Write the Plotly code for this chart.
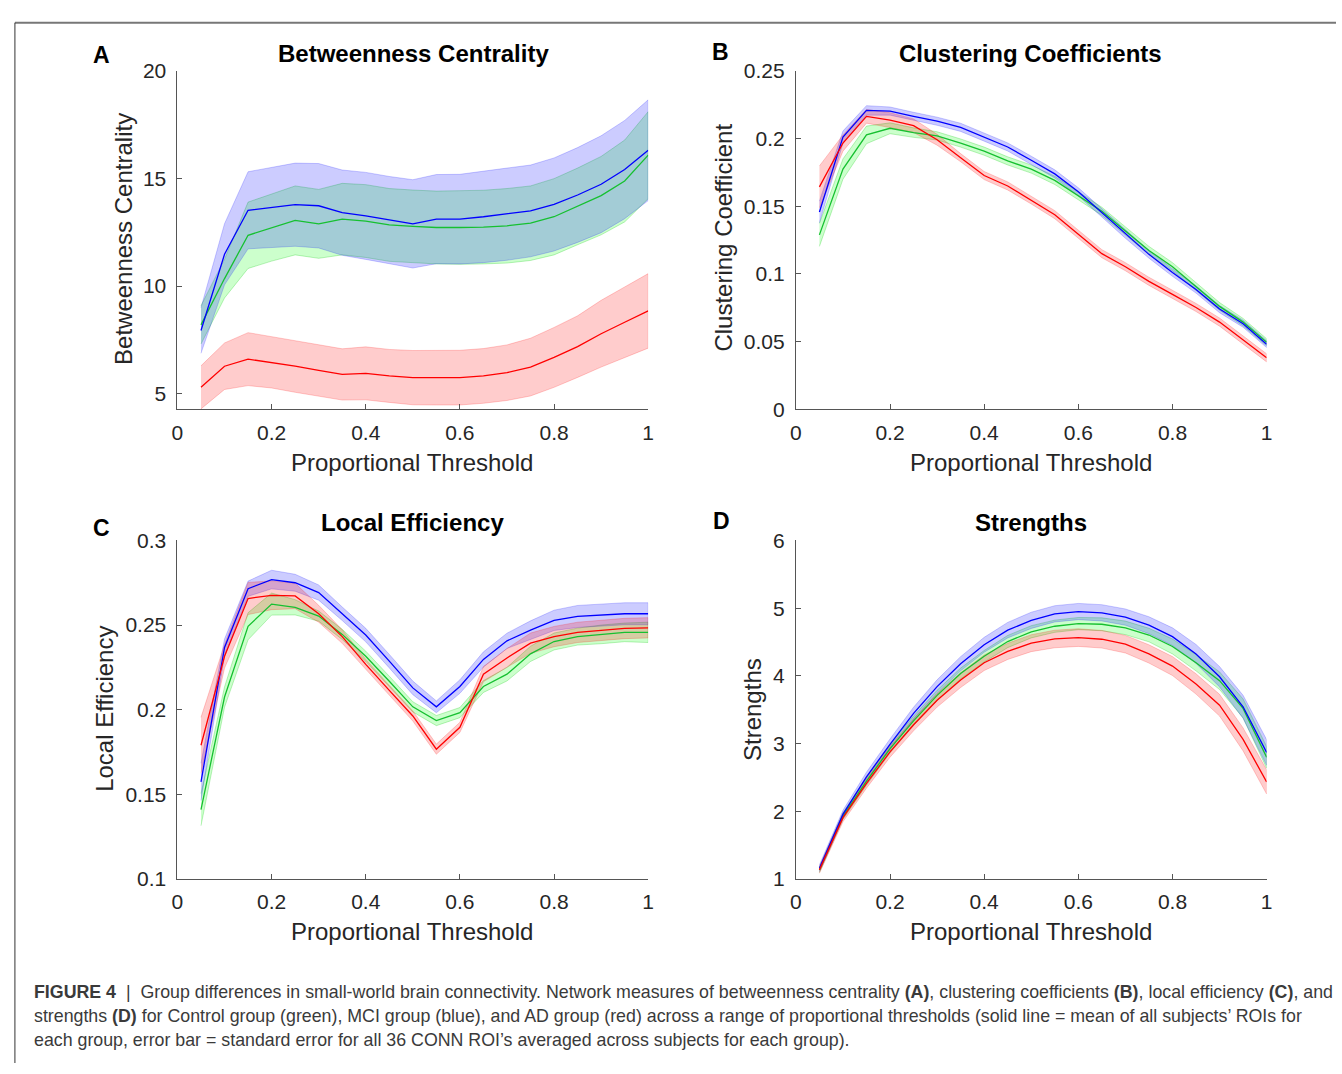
import plotly.graph_objects as go

# ---------------- data ----------------
threshold = [0.05, 0.10, 0.15, 0.20, 0.25, 0.30, 0.35, 0.40, 0.45, 0.50,
             0.55, 0.60, 0.65, 0.70, 0.75, 0.80, 0.85, 0.90, 0.95, 1.00]

# A: Betweenness centrality
bc_ctrl_mean = [8.20, 10.35, 12.36, 12.72, 13.05, 12.89, 13.11, 13.02, 12.84, 12.77,
                12.72, 12.72, 12.74, 12.80, 12.92, 13.22, 13.70, 14.20, 14.88, 16.08]
bc_ctrl_se = [0.89, 0.90, 1.54, 1.56, 1.60, 1.60, 1.66, 1.69, 1.69, 1.69,
              1.69, 1.71, 1.71, 1.73, 1.73, 1.77, 1.78, 1.82, 1.90, 2.02]
bc_mci_mean = [7.94, 11.48, 13.52, 13.64, 13.78, 13.73, 13.41, 13.26, 13.07, 12.89,
               13.11, 13.11, 13.22, 13.34, 13.49, 13.79, 14.23, 14.73, 15.41, 16.31]
bc_mci_se = [1.06, 1.42, 1.79, 1.86, 1.93, 1.96, 1.98, 2.02, 2.02, 2.05,
             2.07, 2.08, 2.13, 2.14, 2.13, 2.16, 2.20, 2.25, 2.28, 2.34]
bc_ad_mean = [5.30, 6.28, 6.61, 6.46, 6.28, 6.09, 5.90, 5.95, 5.83, 5.75,
              5.75, 5.75, 5.83, 5.98, 6.24, 6.69, 7.19, 7.79, 8.32, 8.85]
bc_ad_se = [1.00, 1.08, 1.23, 1.19, 1.21, 1.21, 1.19, 1.23, 1.23, 1.26,
            1.27, 1.27, 1.27, 1.29, 1.34, 1.39, 1.43, 1.55, 1.64, 1.73]

# B: Clustering coefficients
cc_ctrl_mean = [0.1288, 0.1774, 0.2026, 0.2075, 0.2043, 0.2019, 0.1966, 0.1906, 0.1834, 0.1774,
                0.1690, 0.1577, 0.1462, 0.1317, 0.1173, 0.1053, 0.0909, 0.0760, 0.0644, 0.0495]
cc_ctrl_se = [0.0085, 0.0075, 0.0065, 0.0040, 0.0035, 0.0030, 0.0030, 0.0030, 0.0030, 0.0030,
              0.0030, 0.0030, 0.0030, 0.0030, 0.0030, 0.0030, 0.0030, 0.0028, 0.0027, 0.0026]
cc_mci_mean = [0.1457, 0.2010, 0.2207, 0.2202, 0.2163, 0.2127, 0.2082, 0.2010, 0.1937, 0.1839,
               0.1738, 0.1606, 0.1450, 0.1293, 0.1144, 0.1010, 0.0885, 0.0740, 0.0632, 0.0481]
cc_mci_se = [0.0080, 0.0045, 0.0035, 0.0030, 0.0030, 0.0030, 0.0030, 0.0030, 0.0030, 0.0030,
             0.0030, 0.0030, 0.0030, 0.0030, 0.0028, 0.0028, 0.0027, 0.0027, 0.0026, 0.0025]
cc_ad_mean = [0.1642, 0.1966, 0.2163, 0.2135, 0.2094, 0.1990, 0.1858, 0.1726, 0.1649, 0.1546,
              0.1437, 0.1293, 0.1149, 0.1053, 0.0945, 0.0849, 0.0752, 0.0644, 0.0512, 0.0380]
cc_ad_se = [0.0155, 0.0060, 0.0050, 0.0055, 0.0050, 0.0040, 0.0030, 0.0030, 0.0030, 0.0030,
            0.0030, 0.0030, 0.0030, 0.0030, 0.0030, 0.0030, 0.0030, 0.0030, 0.0030, 0.0030]

# C: Local efficiency
le_ctrl_mean = [0.1410, 0.2075, 0.2493, 0.2624, 0.2605, 0.2553, 0.2445, 0.2316, 0.2168, 0.2017,
                0.1936, 0.1983, 0.2137, 0.2210, 0.2330, 0.2403, 0.2432, 0.2445, 0.2457, 0.2457]
le_ctrl_se = [0.0095, 0.0060, 0.0080, 0.0065, 0.0045, 0.0030, 0.0030, 0.0030, 0.0030, 0.0030,
              0.0030, 0.0030, 0.0035, 0.0040, 0.0045, 0.0050, 0.0050, 0.0055, 0.0055, 0.0060]
le_mci_mean = [0.1574, 0.2368, 0.2715, 0.2769, 0.2750, 0.2692, 0.2567, 0.2441, 0.2287, 0.2129,
               0.2017, 0.2137, 0.2297, 0.2407, 0.2470, 0.2528, 0.2551, 0.2561, 0.2567, 0.2567]
le_mci_se = [0.0110, 0.0050, 0.0045, 0.0055, 0.0050, 0.0045, 0.0040, 0.0040, 0.0040, 0.0040,
             0.0035, 0.0040, 0.0045, 0.0045, 0.0055, 0.0060, 0.0065, 0.0065, 0.0065, 0.0065]
le_ad_mean = [0.1790, 0.2316, 0.2657, 0.2676, 0.2672, 0.2567, 0.2432, 0.2268, 0.2114, 0.1963,
              0.1767, 0.1896, 0.2210, 0.2306, 0.2393, 0.2432, 0.2457, 0.2470, 0.2480, 0.2484]
le_ad_se = [0.0165, 0.0070, 0.0095, 0.0085, 0.0075, 0.0050, 0.0040, 0.0030, 0.0030, 0.0030,
            0.0030, 0.0030, 0.0045, 0.0055, 0.0060, 0.0060, 0.0060, 0.0060, 0.0060, 0.0060]

# D: Strengths
st_ctrl_mean = [1.135, 1.930, 2.445, 2.927, 3.336, 3.712, 4.035, 4.290, 4.507, 4.651,
                4.733, 4.772, 4.762, 4.709, 4.603, 4.434, 4.194, 3.929, 3.519, 2.797]
st_ctrl_se = [0.04, 0.05, 0.06, 0.065, 0.07, 0.075, 0.08, 0.085, 0.09, 0.09,
              0.09, 0.09, 0.095, 0.10, 0.10, 0.11, 0.12, 0.13, 0.14, 0.16]
st_mci_mean = [1.159, 1.954, 2.508, 2.989, 3.447, 3.842, 4.179, 4.459, 4.675, 4.820,
               4.916, 4.950, 4.931, 4.868, 4.748, 4.579, 4.324, 3.987, 3.543, 2.869]
st_mci_se = [0.05, 0.06, 0.07, 0.08, 0.09, 0.10, 0.105, 0.11, 0.115, 0.12,
             0.12, 0.12, 0.12, 0.12, 0.125, 0.13, 0.14, 0.15, 0.17, 0.19]
st_ad_mean = [1.135, 1.906, 2.411, 2.879, 3.278, 3.639, 3.938, 4.194, 4.362, 4.483,
              4.545, 4.565, 4.541, 4.468, 4.324, 4.145, 3.881, 3.567, 3.062, 2.435]
st_ad_se = [0.05, 0.06, 0.07, 0.08, 0.09, 0.10, 0.11, 0.115, 0.12, 0.125,
            0.13, 0.13, 0.13, 0.13, 0.135, 0.14, 0.15, 0.16, 0.17, 0.18]

x_tick_vals = [0, 0.2, 0.4, 0.6, 0.8, 1.0]
x_tick_text = ["0", "0.2", "0.4", "0.6", "0.8", "1"]

panels = [
    dict(title="Betweenness Centrality", ylabel="Betweenness Centrality", letter="A",
         series=[(bc_ctrl_mean, bc_ctrl_se), (bc_mci_mean, bc_mci_se), (bc_ad_mean, bc_ad_se)],
         yrange=[4.28, 20], ytv=[5, 10, 15, 20], ytt=["5", "10", "15", "20"]),
    dict(title="Clustering Coefficients", ylabel="Clustering Coefficient", letter="B",
         series=[(cc_ctrl_mean, cc_ctrl_se), (cc_mci_mean, cc_mci_se), (cc_ad_mean, cc_ad_se)],
         yrange=[0, 0.25], ytv=[0, 0.05, 0.1, 0.15, 0.2, 0.25],
         ytt=["0", "0.05", "0.1", "0.15", "0.2", "0.25"]),
    dict(title="Local Efficiency", ylabel="Local Efficiency", letter="C",
         series=[(le_ctrl_mean, le_ctrl_se), (le_mci_mean, le_mci_se), (le_ad_mean, le_ad_se)],
         yrange=[0.1, 0.3], ytv=[0.1, 0.15, 0.2, 0.25, 0.3],
         ytt=["0.1", "0.15", "0.2", "0.25", "0.3"]),
    dict(title="Strengths", ylabel="Strengths", letter="D",
         series=[(st_ctrl_mean, st_ctrl_se), (st_mci_mean, st_mci_se), (st_ad_mean, st_ad_se)],
         yrange=[1, 6], ytv=[1, 2, 3, 4, 5, 6], ytt=["1", "2", "3", "4", "5", "6"]),
]

# ---------------- styling ----------------
W, H = 1342, 1074
FONT = "Liberation Sans, Arial, Helvetica, sans-serif"
line_colors = ["#16c030", "#0000ff", "#ff0000"]
fill_colors = ["rgba(0,255,0,0.2)", "rgba(0,0,255,0.2)", "rgba(255,0,0,0.2)"]
edge_colors = ["rgba(0,200,0,0.25)", "rgba(0,0,255,0.2)", "rgba(255,0,0,0.2)"]


def px(xp):
    return xp / W


def py(yp):
    return 1 - yp / H


# axes boxes in page pixels: (left, right, top, bottom)
boxes = [(173, 648, 60, 406), (797, 1272, 60, 406),
         (173, 648, 540, 886), (797, 1272, 540, 886)]
title_pos = [(411, 42), (1034, 42), (410, 522), (1034, 522)]
letter_pos = [(96, 44), (721, 41), (96, 527), (722, 520)]
ylabel_pos = [(118, 232), (724, 231), (100, 712), (753, 713)]
xlabel_pos = [(410, 460), (1034, 460), (410, 940), (1034, 940)]

fig = go.Figure()
annotations = []

for i, p in enumerate(panels):
    xa = "x" if i == 0 else f"x{i+1}"
    ya = "y" if i == 0 else f"y{i+1}"
    for g, (m, s) in enumerate(p["series"]):
        upper = [a + b for a, b in zip(m, s)]
        lower = [a - b for a, b in zip(m, s)]
        fig.add_trace(go.Scatter(
            x=threshold + threshold[::-1], y=upper + lower[::-1],
            fill="toself", fillcolor=fill_colors[g],
            line=dict(color=edge_colors[g], width=1),
            mode="lines", hoverinfo="skip", showlegend=False,
            xaxis=xa, yaxis=ya))
    for g, (m, s) in enumerate(p["series"]):
        fig.add_trace(go.Scatter(
            x=threshold, y=m, mode="lines",
            line=dict(color=line_colors[g], width=1.3),
            showlegend=False, xaxis=xa, yaxis=ya))

    l, r, t, b = boxes[i]
    axis_common = dict(showline=True, linecolor="#555555", linewidth=1,
                       ticks="inside", ticklen=5, tickcolor="#555555", tickwidth=1,
                       showgrid=False, zeroline=False,
                       tickfont=dict(family=FONT, size=21, color="#262626"))
    xkey = "xaxis" if i == 0 else f"xaxis{i+1}"
    ykey = "yaxis" if i == 0 else f"yaxis{i+1}"
    fig.update_layout({
        xkey: dict(domain=[px(l), px(r)], range=[0, 1], anchor=ya,
                   tickvals=x_tick_vals, ticktext=x_tick_text,
                   ticklabelstandoff=4, **axis_common),
        ykey: dict(domain=[py(b), py(t)], range=p["yrange"], anchor=xa,
                   tickvals=p["ytv"], ticktext=p["ytt"],
                   ticklabelstandoff=6, **axis_common),
    })

    tx, ty = title_pos[i]
    annotations.append(dict(text=f"<b>{p['title']}</b>", x=px(tx), y=py(ty),
                            xref="paper", yref="paper", showarrow=False,
                            xanchor="center", yanchor="middle",
                            font=dict(family=FONT, size=24, color="#000000")))
    lx, ly = letter_pos[i]
    annotations.append(dict(text=f"<b>{p['letter']}</b>", x=px(lx), y=py(ly),
                            xref="paper", yref="paper", showarrow=False,
                            xanchor="center", yanchor="middle",
                            font=dict(family=FONT, size=23, color="#000000")))
    yx, yy = ylabel_pos[i]
    annotations.append(dict(text=p["ylabel"], x=px(yx), y=py(yy), textangle=-90,
                            xref="paper", yref="paper", showarrow=False,
                            xanchor="center", yanchor="middle",
                            font=dict(family=FONT, size=24, color="#262626")))
    xx, xy = xlabel_pos[i]
    annotations.append(dict(text="Proportional Threshold", x=px(xx), y=py(xy),
                            xref="paper", yref="paper", showarrow=False,
                            xanchor="center", yanchor="middle",
                            font=dict(family=FONT, size=24, color="#262626")))

caption_lines = [
    "<b>FIGURE 4</b>\u00a0 |\u00a0 Group differences in small-world brain connectivity. Network measures of betweenness centrality <b>(A)</b>, clustering coefficients <b>(B)</b>, local efficiency <b>(C)</b>, and",
    "strengths <b>(D)</b> for Control group (green), MCI group (blue), and AD group (red) across a range of proportional thresholds (solid line = mean of all subjects’ ROIs for",
    "each group, error bar = standard error for all 36 CONN ROI’s averaged across subjects for each group).",
]
for k, txt in enumerate(caption_lines):
    annotations.append(dict(text=txt, x=px(26), y=py(1001 + 25 * k),
                            xref="paper", yref="paper", showarrow=False,
                            xanchor="left", yanchor="middle", align="left",
                            font=dict(family=FONT, size=17.8, color="#3a3a3a")))

shapes = [
    dict(type="line", xref="paper", yref="paper", x0=px(9), x1=1, y0=py(11), y1=py(11),
         line=dict(color="#777777", width=2)),
    dict(type="line", xref="paper", yref="paper", x0=px(9), x1=px(9), y0=py(11), y1=0,
         line=dict(color="#333333", width=1)),
]

fig.update_layout(width=W, height=H, autosize=False,
                  margin=dict(l=0, r=0, t=0, b=0),
                  paper_bgcolor="white", plot_bgcolor="white",
                  annotations=annotations, shapes=shapes,
                  font=dict(family=FONT))

fig.write_html("out.html", config={"displayModeBar": False},
               post_script="document.body.style.margin='0';document.body.style.overflow='hidden';")
